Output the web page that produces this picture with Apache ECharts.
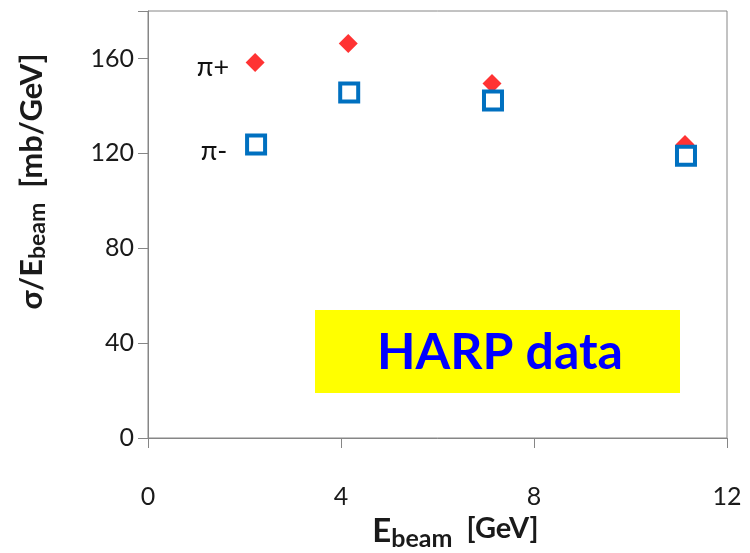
<!DOCTYPE html>
<html>
<head>
<meta charset="utf-8">
<script src="https://cdn.jsdelivr.net/npm/echarts@6/dist/echarts.min.js"></script>
<style>html,body{margin:0;padding:0;background:#fff}#c{width:750px;height:553px}</style>
</head>
<body>
<div id="c"></div>
<script>
const piPlusX = [2.22, 4.15, 7.13, 11.13];
const piPlusY = [158.3, 166.3, 149.4, 123.7];
const piMinusX = [2.24, 4.17, 7.15, 11.15];
const piMinusY = [123.7, 145.6, 142.3, 119.0];
const xTicks = [0, 4, 8, 12];
const yTicks = [0, 40, 80, 120, 160];

const font = 'Lato, "Open Sans", sans-serif';
const chart = echarts.init(document.getElementById('c'), null, {renderer: 'canvas'});
const axisGray = '#868686';
chart.setOption({
  animation: false,
  grid: {left: 148, right: 23, top: 11, bottom: 115, show: true, borderColor: axisGray, borderWidth: 1,
    containLabel: false, outerBoundsMode: 'none'},
  xAxis: {
    type: 'value', min: 0, max: 12, interval: 4,
    axisLine: {show: true, lineStyle: {color: axisGray}},
    axisTick: {show: true, inside: false, length: 10, lineStyle: {color: axisGray}},
    splitLine: {show: false},
    axisLabel: {fontFamily: font, fontSize: 25, color: '#1a1a1a', margin: 46,
      formatter: v => xTicks.includes(v) ? String(v) : ''},
    name: '{b|E}{s|beam}{g|  [GeV]}',
    nameLocation: 'middle', nameGap: 70,
    nameTextStyle: {padding: [0, 0, 0, 36], rich: {
      b: {fontFamily: font, fontWeight: 'bold', fontSize: 33, color: '#1a1a1a', lineHeight: 38, padding: [0, 0, 4, 0]},
      g: {fontFamily: font, fontWeight: 'bold', fontSize: 29, color: '#1a1a1a', lineHeight: 38, padding: [0, 0, 10, 0]},
      s: {fontFamily: font, fontWeight: 'bold', fontSize: 25, color: '#1a1a1a', lineHeight: 38, padding: [12, 0, 0, 0]}
    }}
  },
  yAxis: {
    type: 'value', min: 0, max: 180, interval: 40,
    axisLine: {show: true, lineStyle: {color: axisGray}},
    axisTick: {show: true, inside: false, length: 10, lineStyle: {color: axisGray}},
    splitLine: {show: false},
    axisLabel: {fontFamily: font, fontSize: 25, color: '#1a1a1a', margin: 14,
      formatter: v => yTicks.includes(v) ? String(v) : ''},
    name: '{b|σ/E}{s|beam}{b|  [mb/GeV]}',
    nameLocation: 'middle', nameGap: 98, nameRotate: 90,
    nameTextStyle: {padding: [0, 0, 0, 86], rich: {
      b: {fontFamily: font, fontWeight: 'bold', fontSize: 31, color: '#1a1a1a', lineHeight: 36},
      s: {fontFamily: font, fontWeight: 'bold', fontSize: 23, color: '#1a1a1a', padding: [12, 0, 0, 0], lineHeight: 36}
    }}
  },
  graphic: [
    {type: 'rect', shape: {x: 315, y: 310, width: 365, height: 83}, style: {fill: '#ffff00'}, z: 1},
    {type: 'text', x: 500, y: 353, style: {text: 'HARP data', fontFamily: font, fontSize: 50, fontWeight: 'bold', fill: '#0000ff', align: 'center', verticalAlign: 'middle'}, z: 2},
    {type: 'text', x: 213, y: 67, style: {text: 'π+', fontFamily: font, fontSize: 27, fill: '#111', align: 'center', verticalAlign: 'middle'}, z: 2},
    {type: 'text', x: 214, y: 151, style: {text: 'π-', fontFamily: font, fontSize: 27, fill: '#111', align: 'center', verticalAlign: 'middle'}, z: 2}
  ],
  series: [
    {name: 'π+', type: 'scatter', symbol: 'diamond', symbolSize: [19, 19],
      itemStyle: {color: '#ff0000'}, z: 3,
      data: piPlusX.map((x, i) => [x, piPlusY[i]])},
    {name: 'π-', type: 'scatter', symbol: 'rect', symbolSize: 18,
      itemStyle: {color: '#ffffff', opacity: 1, borderColor: '#0070c0', borderWidth: 4}, z: 4,
      data: piMinusX.map((x, i) => [x, piMinusY[i]])}
  ]
});
</script>
</body>
</html>
